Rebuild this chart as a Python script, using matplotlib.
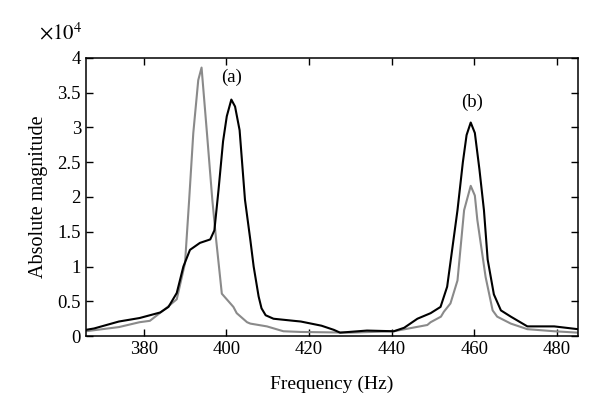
import numpy as np
import matplotlib.pyplot as plt

plt.rcParams['font.family'] = ['Liberation Serif', 'DejaVu Serif']
plt.rcParams['mathtext.fontset'] = 'stix'

# black curve (frequency in Hz, magnitude in units of 1e4)
freq_black = [366, 368, 371, 374, 379, 384, 386, 388, 389.6, 391.2, 393.6, 396.1,
              397.1, 398.1, 399.2, 400.1, 401.2, 402.1, 403.2, 404.5, 405.8, 406.6,
              407.8, 408.5, 409.5, 411.4, 416.3, 418, 423, 426, 427.5, 434, 440.5,
              443, 446.2, 449.4, 451.8, 453.4, 455.9, 457.2, 458.1, 459.1, 460.1,
              461.2, 462.3, 463.2, 464.7, 466.4, 468.8, 472.8, 479.3, 485]
mag_black = [0.09, 0.11, 0.16, 0.21, 0.26, 0.34, 0.42, 0.62, 1.0, 1.24, 1.34, 1.39,
             1.52, 2.1, 2.8, 3.16, 3.40, 3.30, 2.96, 1.96, 1.38, 1.0,
             0.57, 0.40, 0.30, 0.25, 0.22, 0.21, 0.15, 0.09, 0.05, 0.08, 0.07,
             0.12, 0.25, 0.33, 0.42, 0.71, 1.81, 2.5, 2.89, 3.07, 2.92,
             2.4, 1.81, 1.1, 0.6, 0.37, 0.28, 0.14, 0.14, 0.10]

# gray curve
freq_gray = [366, 370, 374, 379, 381.5, 385.6, 388, 390, 391, 392, 393.2, 394.0,
             395.3, 396.6, 397.5, 398.9, 401.7, 402.5, 405, 405.8, 409.8, 413.8,
             418, 430, 440.5, 448.6, 449.4, 451.9, 452.6, 454.2, 455.9, 457.5,
             459.1, 460.1, 460.7, 462.7, 464.4, 465.5, 468.8, 472.8, 479.3, 485]
mag_gray = [0.07, 0.10, 0.13, 0.20, 0.22, 0.41, 0.53, 1.05, 1.96, 2.92, 3.68, 3.86,
            2.92, 1.96, 1.4, 0.61, 0.42, 0.33, 0.20, 0.18, 0.14, 0.07,
            0.06, 0.05, 0.07, 0.16, 0.20, 0.28, 0.35, 0.47, 0.8, 1.81,
            2.16, 2.02, 1.67, 0.85, 0.37, 0.28, 0.18, 0.10, 0.07, 0.05]

xticks = [380, 400, 420, 440, 460, 480]
yticks = [0, 0.5, 1, 1.5, 2, 2.5, 3, 3.5, 4]
ytick_labels = ['0', '0.5', '1', '1.5', '2', '2.5', '3', '3.5', '4']

fig = plt.figure(figsize=(6, 4.16), dpi=100)
ax = fig.add_axes([0.143, 0.192, 0.82, 0.669])

ax.plot(freq_gray, mag_gray, color='#8a8a8a', lw=1.5)
ax.plot(freq_black, mag_black, color='black', lw=1.5)

ax.set_xlim(366, 485)
ax.set_ylim(0, 4)
ax.set_xticks(xticks)
ax.set_yticks(yticks)
ax.set_yticklabels(ytick_labels)
ax.tick_params(direction='in', top=True, right=True, length=5, labelsize=13.5, width=1)
for s in ax.spines.values():
    s.set_linewidth(1.1)

ax.set_xlabel('Frequency (Hz)', fontsize=14, labelpad=13)
ax.set_ylabel('Absolute magnitude', fontsize=14.5, labelpad=7)

ax.text(-0.095, 1.065, r'$\times10^{4}$', transform=ax.transAxes, fontsize=15)
ax.text(401.3, 3.66, '(a)', fontsize=13.5, ha='center')
ax.text(459.5, 3.3, '(b)', fontsize=13.5, ha='center')

plt.savefig('out.png', dpi=100)
